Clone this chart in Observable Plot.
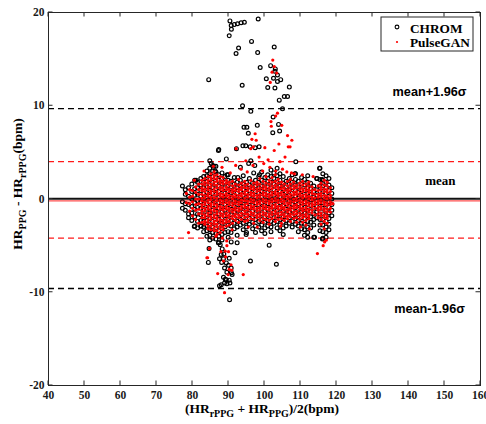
<!DOCTYPE html>
<html><head><meta charset="utf-8">
<script src="https://cdn.jsdelivr.net/npm/d3@7"></script>
<script src="https://cdn.jsdelivr.net/npm/@observablehq/plot@0.6"></script>
<style>body{margin:0;background:#fff}#chart{width:486px;height:424px}</style>
</head><body><div id="chart"></div>
<script>
const xTicks = [40,50,60,70,80,90,100,110,120,130,140,150,160];
const yTicks = [-20,-10,0,10,20];
const seriesNames = ["CHROM","PulseGAN"];
// limits of agreement
const chromMean = 0.03, chromUpper = 9.7, chromLower = -9.6;
const ganMean = -0.2, ganUpper = 4.0, ganLower = -4.2;

// CHROM dense cluster: [x, [y values]]
const chromCore = [
[77.2,[1.4,-0.3,-1.0]],
[78.0,[0.5,-0.5,-1.2,1.0]],
[78.9,[1.2,0.3,-0.6,-1.6,-2.0]],
[79.8,[1.6,0.8,0,-0.8,-1.5,-2.3]],
[80.6,[2.0,1.1,0.4,-0.4,-1.1,-1.9,-2.9]],
[81.4,[1.8,1.2,0.5,-0.2,-0.9,-1.6,-2.4,-3.1]],
[82.3,[2.2,1.5,0.9,0.3,-0.3,-1.0,-1.7,-2.3,-2.9]],
[83.1,[2.4,1.8,1.2,0.6,0,-0.6,-1.2,-1.8,-2.4,-3.0,-3.5]],
[84.0,[3.0,2.5,1.9,1.3,0.7,0.1,-0.5,-1.1,-1.7,-2.3,-2.9,-3.4,-4.0]],
[84.8,[3.3,2.7,2.1,1.5,0.9,0.3,-0.3,-0.9,-1.5,-2.1,-2.7,-3.3,-3.9,-4.4]],
[85.6,[3.6,3.0,2.4,1.8,1.2,0.6,0,-0.6,-1.2,-1.8,-2.4,-3.0,-3.6,-4.2]],
[86.5,[3.5,2.9,2.3,1.7,1.1,0.5,-0.1,-0.7,-1.3,-1.9,-2.5,-3.1,-3.7,-4.3]],
[87.3,[2.6,2.0,1.4,0.8,0.2,-0.4,-1.0,-1.6,-2.2,-2.8,-3.4,-4.0]],
[88.2,[2.8,2.2,1.6,1.0,0.4,-0.2,-0.8,-1.4,-2.0,-2.6,-3.2,-3.8,-4.4]],
[89.0,[2.4,1.8,1.2,0.6,0,-0.6,-1.2,-1.8,-2.4,-3.0,-3.6]],
[89.9,[2.6,2.0,1.4,0.8,0.2,-0.4,-1.0,-1.6,-2.2,-2.8,-3.5,-4.1]],
[90.7,[1.9,1.3,0.7,0.1,-0.5,-1.1,-1.7,-2.3,-2.9,-3.6]],
[91.6,[2.3,1.6,1.0,0.4,-0.2,-0.8,-1.4,-2.0,-2.6,-3.2]],
[92.4,[1.8,1.2,0.6,0,-0.6,-1.2,-1.8,-2.4,-3.0,-3.9]],
[93.3,[2.0,1.4,0.8,0.2,-0.4,-1.0,-1.6,-2.2,-2.8]],
[94.1,[2.5,1.6,1.0,0.4,-0.2,-0.8,-1.4,-2.0,-2.6,-3.3]],
[95.0,[1.8,1.2,0.6,0,-0.6,-1.2,-1.8,-2.4,-3.0,-3.6]],
[95.8,[2.2,1.5,0.9,0.3,-0.3,-0.9,-1.5,-2.1,-2.7]],
[96.7,[1.7,1.1,0.5,-0.1,-0.7,-1.3,-1.9,-2.5,-3.2]],
[97.5,[2.0,1.4,0.8,0.2,-0.4,-1.0,-1.6,-2.2,-2.9,-3.6]],
[98.4,[2.4,1.8,1.2,0.6,0,-0.6,-1.2,-1.8,-2.4,-3.0]],
[99.2,[2.9,2.0,1.4,0.8,0.2,-0.4,-1.0,-1.6,-2.2,-2.8,-3.4]],
[100.1,[2.3,1.7,1.1,0.5,-0.1,-0.7,-1.3,-1.9,-2.5,-3.1,-3.7]],
[100.9,[2.6,1.9,1.3,0.7,0.1,-0.5,-1.1,-1.7,-2.3,-2.9]],
[101.8,[3.1,2.4,1.8,1.2,0.6,0,-0.6,-1.2,-1.8,-2.4,-3.0,-3.5]],
[102.6,[2.8,2.2,1.6,1.0,0.4,-0.2,-0.8,-1.4,-2.0,-2.6]],
[103.5,[3.3,2.5,1.8,1.2,0.6,0,-0.6,-1.2,-1.8,-2.4,-3.1]],
[104.3,[2.7,2.0,1.4,0.8,0.2,-0.4,-1.0,-1.6,-2.2,-2.8,-3.4]],
[105.2,[2.4,1.7,1.1,0.5,-0.1,-0.7,-1.3,-1.9,-2.5,-3.1,-3.8]],
[106.0,[1.9,1.3,0.7,0.1,-0.5,-1.1,-1.7,-2.3,-2.9]],
[106.9,[2.2,1.6,1.0,0.4,-0.2,-0.8,-1.4,-2.0,-2.6]],
[107.7,[2.6,1.8,1.2,0.6,0,-0.6,-1.2,-1.8,-2.4,-3.0]],
[108.6,[2.7,2.1,1.5,0.9,0.3,-0.3,-0.9,-1.5,-2.1,-2.7]],
[109.4,[1.9,1.3,0.7,0.1,-0.5,-1.1,-1.7,-2.3,-2.9,-3.5]],
[110.3,[2.3,1.6,1.0,0.4,-0.2,-0.8,-1.4,-2.0,-2.6,-3.2]],
[111.1,[2.1,1.5,0.9,0.3,-0.3,-0.9,-1.5,-2.1,-2.7,-3.3,-3.9]],
[112.0,[2.5,1.8,1.2,0.6,0,-0.6,-1.2,-1.8,-2.4,-3.0,-3.6,-4.1]],
[112.8,[1.7,1.1,0.5,-0.1,-0.7,-1.3,-1.9,-2.5,-3.1]],
[113.7,[1.4,0.8,0.2,-0.4,-1.0,-1.6,-2.2,-2.8,-4.1]],
[114.5,[2.2,1.0,0.4,-0.2,-0.8,-1.4,-2.0]],
[115.4,[3.3,2.1,1.4,0.8,0.2,-0.4,-1.0,-1.6,-2.2,-2.8,-3.4]],
[116.2,[2.7,2.0,1.4,0.8,0.2,-0.4,-1.0,-1.6,-2.2,-2.8,-3.5,-4.2]],
[117.1,[2.5,1.8,1.2,0.6,0,-0.6,-1.2,-1.8,-2.4,-3.0,-3.6,-4.1]],
[117.9,[2.2,1.5,0.9,0.3,-0.3,-0.9,-1.5,-2.1,-2.7,-3.3]],
[118.7,[1.2,0.6,0,-0.6,-1.2,-1.8]]
];
// CHROM scattered points: [x, y]
const chromScatter = [
[90.4,19.1],[90.75,18.6],[90.8,18.2],[91.6,18.7],[92.5,18.8],[93.5,18.9],[94.4,18.95],[98.25,19.3],
[90.2,17.5],[92.8,16.2],[92.1,15.6],[96.4,16.9],[98.1,15.7],[102.7,16.3],[84.5,12.8],[93.8,12.2],
[98.8,14.1],[101.7,14.3],[103.0,13.95],[102.9,13.7],[103.6,13.3],[100.5,12.9],[102.5,12.95],[103.6,12.6],
[104.5,12.8],[100.9,11.95],[102.9,11.9],[106.9,12.0],[104.1,10.6],[105.5,11.0],[106.4,11.0],[105.0,9.67],
[93.9,10.0],[96.2,9.4],[102.4,8.8],[94.3,7.7],[95.1,7.7],[98.0,7.9],[103.9,8.0],[95.5,7.05],[102.3,7.1],
[104.2,7.3],[94.0,5.7],[87.3,5.3],[96.0,5.6],[97.4,5.5],[94.8,5.7],[96.2,4.1],[98.5,5.6],[95.6,3.8],
[97.3,3.6],[98.6,2.6],[97.0,2.8],[87.2,5.2],[89.4,4.3],[92.2,5.4],[93.3,3.4],[86.0,3.5],[86.3,3.0],
[81.0,2.0],[89.6,2.6],[92.6,2.3],[108.7,4.0],[115.3,3.3],[108.5,2.7],[116.0,2.1],[114.6,2.2],[85.2,3.8],
[84.8,4.1],
[101.3,-4.95],[96.1,-6.65],[103.3,-7.0],[113.9,-4.1],[116.1,-4.3],[94.9,-3.8],[84.6,-5.3],[84.4,-6.8],
[90.3,-10.8],[87.2,-4.7],[80.5,-2.95],[82.4,-2.9],[87.7,-4.9],[88.25,-5.35],[87.97,-5.95],[88.7,-5.9],
[87.5,-6.4],[88.6,-6.4],[90.2,-6.35],[88.1,-6.8],[89.4,-6.85],[90.0,-7.1],[88.9,-7.4],[90.75,-7.4],
[89.55,-7.85],[90.8,-7.9],[91.0,-8.1],[88.6,-8.4],[89.4,-8.65],[90.2,-8.7],[90.4,-9.0],[88.9,-9.0],
[87.97,-9.2],[89.55,-9.1],[91.8,-5.77],[92.4,-4.7],[90.75,-4.6],[87.3,-4.7],[87.5,-9.3],[89.1,-8.6]
];
// PulseGAN dense cluster: [x, [y values]]
const ganCore = [
[78.3,[0.6,-0.4]],
[79.2,[1.0,0.2,-0.5,-1.3]],
[80.0,[0.9,0.3,-0.3,-1.0,-1.8]],
[80.9,[1.3,0.7,0,-0.6,-1.2,-2.2]],
[81.7,[1.6,1.0,0.5,0,-0.5,-1.1,-1.6,-2.6]],
[82.6,[2.0,1.6,1.2,0.9,0.5,0.1,-0.2,-0.6,-0.9,-1.3,-1.6,-2.0,-2.5]],
[83.4,[2.2,1.8,1.5,1.1,0.8,0.4,0.1,-0.3,-0.6,-1.0,-1.3,-1.7,-2.0,-2.4,-2.7]],
[84.3,[2.4,2.0,1.7,1.3,1.0,0.6,0.3,-0.1,-0.4,-0.8,-1.1,-1.5,-1.8,-2.2,-2.5,-2.9,-3.2]],
[85.1,[2.7,2.3,2.0,1.6,1.3,0.9,0.6,0.2,-0.1,-0.5,-0.8,-1.2,-1.5,-1.9,-2.2,-2.6,-2.9,-3.3]],
[86.0,[2.9,2.5,2.2,1.8,1.5,1.1,0.8,0.4,0.1,-0.3,-0.6,-1.0,-1.3,-1.7,-2.0,-2.4,-2.7,-3.1,-3.4]],
[86.8,[2.6,2.2,1.9,1.5,1.2,0.8,0.5,0.1,-0.2,-0.6,-0.9,-1.3,-1.6,-2.0,-2.3,-2.7,-3.0,-3.4,-3.8]],
[87.7,[2.4,2.0,1.7,1.3,1.0,0.6,0.3,-0.1,-0.4,-0.8,-1.1,-1.5,-1.8,-2.2,-2.5,-2.9,-3.2,-3.6]],
[88.5,[2.3,1.9,1.6,1.2,0.9,0.5,0.2,-0.2,-0.5,-0.9,-1.2,-1.6,-1.9,-2.3,-2.6,-3.0,-3.3]],
[89.4,[2.0,1.7,1.3,1.0,0.6,0.3,-0.1,-0.4,-0.8,-1.1,-1.5,-1.8,-2.2,-2.5,-2.9]],
[90.2,[1.8,1.5,1.1,0.8,0.4,0.1,-0.3,-0.6,-1.0,-1.3,-1.7,-2.0,-2.4,-2.8]],
[91.1,[1.9,1.4,1.0,0.7,0.3,0,-0.4,-0.7,-1.1,-1.4,-1.8,-2.1,-2.6]],
[91.9,[1.6,1.2,0.9,0.5,0.2,-0.2,-0.5,-0.9,-1.2,-1.6,-1.9,-2.3]],
[92.8,[2.1,1.5,1.1,0.8,0.4,0.1,-0.3,-0.6,-1.0,-1.3,-1.7,-2.0,-2.5]],
[93.6,[1.7,1.3,1.0,0.6,0.3,-0.1,-0.4,-0.8,-1.1,-1.5,-1.8,-2.2]],
[94.5,[1.9,1.5,1.2,0.8,0.5,0.1,-0.2,-0.6,-0.9,-1.3,-1.6,-2.0,-2.4]],
[95.3,[1.6,1.2,0.9,0.5,0.2,-0.2,-0.5,-0.9,-1.2,-1.6,-1.9,-2.3]],
[96.2,[2.0,1.4,1.1,0.7,0.4,0,-0.3,-0.7,-1.0,-1.4,-1.7,-2.1]],
[97.0,[1.7,1.3,1.0,0.6,0.3,-0.1,-0.4,-0.8,-1.1,-1.5,-1.8,-2.2,-2.6]],
[97.9,[1.8,1.5,1.1,0.8,0.4,0.1,-0.3,-0.6,-1.0,-1.3,-1.7,-2.0]],
[98.7,[2.2,1.6,1.2,0.9,0.5,0.2,-0.2,-0.5,-0.9,-1.2,-1.6,-1.9,-2.3]],
[99.6,[1.9,1.4,1.1,0.7,0.4,0,-0.3,-0.7,-1.0,-1.4,-1.7,-2.1,-2.5]],
[100.4,[2.4,1.7,1.3,1.0,0.6,0.3,-0.1,-0.4,-0.8,-1.1,-1.5,-1.8,-2.2]],
[101.3,[2.0,1.6,1.2,0.9,0.5,0.2,-0.2,-0.5,-0.9,-1.2,-1.6,-1.9,-2.3,-2.7]],
[102.1,[2.3,1.8,1.4,1.1,0.7,0.4,0,-0.3,-0.7,-1.0,-1.4,-1.7,-2.1]],
[103.0,[2.6,1.9,1.5,1.2,0.8,0.5,0.1,-0.2,-0.6,-0.9,-1.3,-1.6,-2.0,-2.4]],
[103.8,[2.1,1.7,1.3,1.0,0.6,0.3,-0.1,-0.4,-0.8,-1.1,-1.5,-1.8,-2.2]],
[104.7,[1.8,1.4,1.1,0.7,0.4,0,-0.3,-0.7,-1.0,-1.4,-1.7,-2.1,-2.6]],
[105.5,[1.6,1.2,0.9,0.5,0.2,-0.2,-0.5,-0.9,-1.2,-1.6,-1.9,-2.3]],
[106.4,[1.9,1.4,1.0,0.7,0.3,0,-0.4,-0.7,-1.1,-1.4,-1.8,-2.1]],
[107.2,[2.1,1.6,1.2,0.9,0.5,0.2,-0.2,-0.5,-0.9,-1.2,-1.6,-1.9,-2.4]],
[108.1,[1.8,1.4,1.1,0.7,0.4,0,-0.3,-0.7,-1.0,-1.4,-1.7,-2.1]],
[108.9,[1.5,1.2,0.8,0.5,0.1,-0.2,-0.6,-0.9,-1.3,-1.6,-2.0,-2.5]],
[109.8,[1.7,1.3,1.0,0.6,0.3,-0.1,-0.4,-0.8,-1.1,-1.5,-1.8,-2.2]],
[110.6,[1.9,1.5,1.1,0.8,0.4,0.1,-0.3,-0.6,-1.0,-1.3,-1.7,-2.0,-2.5]],
[111.5,[1.6,1.2,0.9,0.5,0.2,-0.2,-0.5,-0.9,-1.2,-1.6,-1.9,-2.3,-2.8]],
[112.3,[1.8,1.4,1.0,0.7,0.3,0,-0.4,-0.7,-1.1,-1.4,-1.8,-2.1]],
[113.2,[1.3,0.9,0.6,0.2,-0.1,-0.5,-0.8,-1.2,-1.5]],
[114.0,[1.0,0.5,0.1,-0.3,-0.6,-1.0,-1.7]],
[114.9,[1.4,0.9,0.5,0.2,-0.2,-0.5,-0.9,-1.2,-1.6,-2.0]],
[115.7,[1.7,1.3,1.0,0.6,0.3,-0.1,-0.4,-0.8,-1.1,-1.5,-1.8,-2.2,-2.7]],
[116.6,[2.0,1.5,1.1,0.8,0.4,0.1,-0.3,-0.6,-1.0,-1.3,-1.7,-2.0,-2.4,-3.2]],
[117.4,[1.8,1.4,1.0,0.7,0.3,0,-0.4,-0.7,-1.1,-1.4,-1.8,-2.1,-2.6]],
[118.3,[1.2,0.8,0.4,0.1,-0.3,-0.6,-1.0,-1.4]]
];
// PulseGAN scattered points: [x, y]
const ganScatter = [
[102.3,14.9],[102.7,14.2],[102.1,13.6],[103.4,13.5],[101.6,12.5],[103.6,9.2],[103.1,8.9],[101.8,8.3],
[101.9,7.8],[104.8,7.9],[106.4,6.8],[107.6,6.3],[104.0,5.9],[106.6,5.6],[107.1,5.6],[97.4,7.0],[96.5,6.4],
[97.7,6.3],[96.2,5.4],[96.9,5.6],[92.1,5.4],[100.1,5.5],[105.7,4.5],[103.1,3.0],[105.0,3.2],[98.5,4.5],
[101.0,4.2],[102.7,5.2],[104.3,4.0],[94.8,4.1],[93.5,3.2],[95.2,2.9],[96.8,3.6],[99.5,3.0],[106.2,2.9],
[108.3,2.7],[107.5,2.8],[83.2,3.0],[85.8,3.5],[88.2,3.4],[90.5,2.8],[92.0,3.6],[80.5,2.0],[99.8,3.8],
[101.5,3.4],[110.5,2.6],[113.5,2.4],
[114.7,-5.85],[116.3,-5.0],[116.7,-4.6],[117.2,-4.4],[94.1,-8.1],[88.9,-10.05],[78.9,-3.6],[84.2,-6.3],
[87.0,-8.0],[84.7,-5.3],[89.55,-5.0],[87.9,-5.65],[89.1,-5.6],[90.0,-5.65],[89.2,-6.2],[88.6,-6.65],
[90.7,-7.05],[90.2,-7.55],[90.9,-7.65],[89.9,-8.1],[84.0,-6.3],[112.5,-3.2],[110.0,-3.0],[98.0,-3.0],
[91.0,-3.3],[95.5,-3.0],[104.5,-2.9],[119.0,-0.5],[88.3,-4.2],[89.5,-4.5],[86.5,-4.0]
];

const chrom = chromCore.flatMap(([x, ys]) => ys.map(y => ({x, y})))
  .concat(chromScatter.map(([x, y]) => ({x, y})));
const gan = ganCore.flatMap(([x, ys]) => ys.map(y => ({x, y})))
  .concat(ganScatter.map(([x, y]) => ({x, y})));

const serif = "'Liberation Serif','Times New Roman',serif";
const sans = "'Liberation Sans',Arial,sans-serif";

const plot = Plot.plot({
  width: 486, height: 424,
  marginLeft: 48, marginRight: 6, marginTop: 12, marginBottom: 39,
  x: {domain: [40, 160]},
  y: {domain: [-20, 20]},
  style: {fontFamily: serif, fontSize: "11.5px", fontWeight: "bold", color: "#1a1a1a", background: "white", overflow: "visible"},
  marks: [
    Plot.axisX({ticks: xTicks, tickSize: 0, tickPadding: 5, tickFormat: d => String(d), label: null}),
    Plot.axisY({ticks: yTicks, tickSize: 0, tickPadding: 4, tickFormat: d => String(d), label: null}),
    Plot.ruleY([chromUpper, chromLower], {stroke: "black", strokeWidth: 1.3, strokeDasharray: "6,4"}),
    Plot.ruleY([ganUpper, ganLower], {stroke: "#ff1a1a", strokeWidth: 1.2, strokeDasharray: "6,4"}),
    Plot.ruleY([chromMean], {stroke: "#111", strokeWidth: 2}),
    Plot.ruleY([ganMean], {stroke: "#ff5050", strokeWidth: 1.2}),
    Plot.dot(chrom, {x: "x", y: "y", r: 1.9, stroke: "black", strokeWidth: 1.2, fill: "none"}),
    Plot.dot(gan, {x: "x", y: "y", r: 1.6, fill: "#ff0000", stroke: "none"}),
    Plot.frame({stroke: "#262626", strokeWidth: 1}),
    Plot.text(["mean+1.96σ"], {y: chromUpper, frameAnchor: "right", dx: -14, dy: -17, textAnchor: "end", fontFamily: sans, fontSize: 12.7, fontWeight: "bold", fill: "black"}),
    Plot.text(["mean"], {y: chromMean, frameAnchor: "right", dx: -25, dy: -18, textAnchor: "end", fontFamily: serif, fontSize: 13, fontWeight: "bold", fill: "black"}),
    Plot.text(["mean-1.96σ"], {y: chromLower, frameAnchor: "right", dx: -15.6, dy: 20, textAnchor: "end", fontFamily: sans, fontSize: 12.7, fontWeight: "bold", fill: "black"})
  ]
});

const svg = d3.select(plot);
const X = plot.scale("x"), Y = plot.scale("y");
const yTop = Y.apply(20), yBot = Y.apply(-20), xLeft = X.apply(40), xRight = X.apply(160);
const g = svg.append("g").attr("stroke", "#262626").attr("stroke-width", 1);
xTicks.forEach(v => {
  const p = X.apply(v);
  g.append("line").attr("x1", p).attr("x2", p).attr("y1", yBot).attr("y2", yBot - 4.5);
  g.append("line").attr("x1", p).attr("x2", p).attr("y1", yTop).attr("y2", yTop + 4.5);
});
yTicks.forEach(v => {
  const p = Y.apply(v);
  g.append("line").attr("y1", p).attr("y2", p).attr("x1", xLeft).attr("x2", xLeft + 4.5);
  g.append("line").attr("y1", p).attr("y2", p).attr("x1", xRight).attr("x2", xRight - 4.5);
});

// legend
const lg = svg.append("g").attr("text-anchor", "start");
lg.append("rect").attr("x", 381).attr("y", 17).attr("width", 92).attr("height", 34)
  .attr("fill", "white").attr("stroke", "#262626").attr("stroke-width", 1);
lg.append("circle").attr("cx", 397).attr("cy", 27).attr("r", 1.9).attr("fill", "none").attr("stroke", "black").attr("stroke-width", 1.1);
lg.append("circle").attr("cx", 397).attr("cy", 42).attr("r", 1.1).attr("fill", "#ff0000");
lg.append("text").attr("x", 410).attr("y", 32.5).attr("text-anchor", "start").text(seriesNames[0])
  .attr("font-family", serif).attr("font-weight", "bold").attr("font-size", 13.3).attr("fill", "black");
lg.append("text").attr("x", 410).attr("y", 47).attr("text-anchor", "start").text(seriesNames[1])
  .attr("font-family", serif).attr("font-weight", "bold").attr("font-size", 13.3).attr("fill", "black");

// axis labels with subscripts
function label(parts, attrs) {
  const t = svg.append("text").attr("font-family", serif).attr("font-weight", "bold").attr("fill", "black");
  Object.entries(attrs).forEach(([k, v]) => t.attr(k, v));
  let shift = 0;
  parts.forEach(([s, sub]) => {
    const want = sub ? 4 : 0;
    t.append("tspan").attr("dy", want - shift).attr("font-size", sub ? 10 : 13.5).text(s);
    shift = want;
  });
  return t;
}
label([["(HR"], ["rPPG", 1], [" + HR"], ["PPG", 1], [")/2(bpm)"]],
  {x: (xLeft + xRight) / 2 - 2, y: 413, "text-anchor": "middle"});
label([["HR"], ["PPG", 1], [" - HR"], ["rPPG", 1], ["(bpm)"]],
  {x: 0, y: 0, "text-anchor": "middle", transform: `translate(22,184) rotate(-90)`});

document.getElementById("chart").appendChild(plot);
</script></body></html>
